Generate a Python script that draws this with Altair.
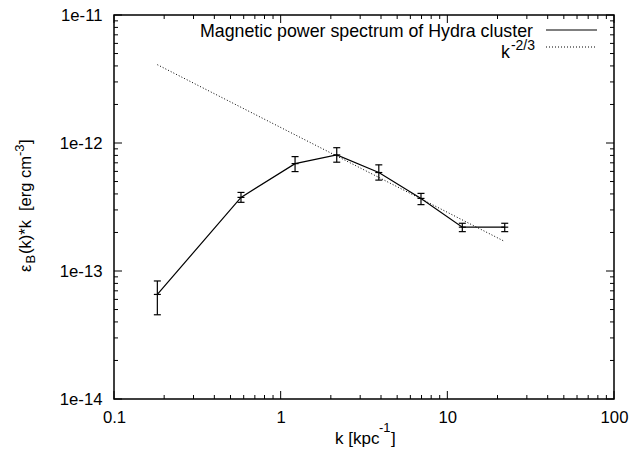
import altair as alt
import pandas as pd

# ---- data ----
k_vals = [0.182, 0.578, 1.22, 2.17, 3.88, 6.95, 12.3, 22.1]
e_vals = [6.56e-14, 3.76e-13, 6.9e-13, 8.07e-13, 5.88e-13, 3.69e-13, 2.20e-13, 2.20e-13]
e_hi = [8.36e-14, 4.11e-13, 7.83e-13, 9.19e-13, 6.75e-13, 4.04e-13, 2.36e-13, 2.36e-13]
e_lo = [4.55e-14, 3.44e-13, 5.98e-13, 7.08e-13, 5.13e-13, 3.30e-13, 2.03e-13, 2.03e-13]

fit_k = [0.182, 22.1]
fit_e = [4.09e-12, 1.70e-13]

x_major = [0.1, 1, 10, 100]
x_minor = [0.2, 0.3, 0.4, 0.5, 0.6, 0.7, 0.8, 0.9,
           2, 3, 4, 5, 6, 7, 8, 9,
           20, 30, 40, 50, 60, 70, 80, 90]
y_major = [1e-14, 1e-13, 1e-12, 1e-11]
y_minor = [2e-14, 3e-14, 4e-14, 5e-14, 6e-14, 7e-14, 8e-14, 9e-14,
           2e-13, 3e-13, 4e-13, 5e-13, 6e-13, 7e-13, 8e-13, 9e-13,
           2e-12, 3e-12, 4e-12, 5e-12, 6e-12, 7e-12, 8e-12, 9e-12]

legend_main = "Magnetic power spectrum of Hydra cluster"

FONT = "Liberation Sans"
W, H = 500, 384
MAJ, MIN = 8, 4

df = pd.DataFrame({"k": k_vals, "E": e_vals, "hi": e_hi, "lo": e_lo})
fit = pd.DataFrame({"k": fit_k, "E": fit_e})
one = pd.DataFrame({"a": [0]})

xscale = alt.Scale(type="log", domain=[0.1, 100], nice=False)
yscale = alt.Scale(type="log", domain=[1e-14, 1e-11], nice=False)

common_axis = dict(ticks=False, tickSize=0, domain=False, grid=False, title=None,
                   labelFont=FONT, labelFontSize=16.7, labelColor="black",
                   labelFlush=False, labelOverlap=False)
xaxis = alt.Axis(values=x_major, format="~g", labelPadding=10, **common_axis)
yaxis = alt.Axis(values=y_major, format="~e", labelPadding=12, **common_axis)

X = lambda f: alt.X(f, type="quantitative", scale=xscale, axis=xaxis)
Y = lambda f: alt.Y(f, type="quantitative", scale=yscale, axis=yaxis)

base = alt.Chart(df)
line = base.mark_line(color="black", strokeWidth=1.2).encode(x=X("k"), y=Y("E"))
err = base.mark_rule(color="black", strokeWidth=1.2).encode(x=X("k"), y=Y("lo"), y2="hi:Q")
caps = [base.mark_point(shape="stroke", size=49, color="black", strokeWidth=1.2,
                        filled=False, opacity=1).encode(x=X("k"), y=Y(f))
        for f in ["lo", "hi", "E"]]
dotted = alt.Chart(fit).mark_line(color="black", strokeWidth=1, strokeDash=[1, 2]).encode(
    x=X("k"), y=Y("E"))

# inward ticks on all four sides
xmaj = pd.DataFrame({"v": x_major})
xmin = pd.DataFrame({"v": x_minor})
ymaj = pd.DataFrame({"v": y_major})
ymin = pd.DataFrame({"v": y_minor})
ticks = []
for d, ln in [(xmaj, MAJ), (xmin, MIN)]:
    ticks.append(alt.Chart(d).mark_rule(color="black", strokeWidth=1).encode(
        x=X("v"), y=alt.value(H), y2=alt.value(H - ln)))
    ticks.append(alt.Chart(d).mark_rule(color="black", strokeWidth=1).encode(
        x=X("v"), y=alt.value(0), y2=alt.value(ln)))
for d, ln in [(ymaj, MAJ), (ymin, MIN)]:
    ticks.append(alt.Chart(d).mark_rule(color="black", strokeWidth=1).encode(
        y=Y("v"), x=alt.value(0), x2=alt.value(ln)))
    ticks.append(alt.Chart(d).mark_rule(color="black", strokeWidth=1).encode(
        y=Y("v"), x=alt.value(W), x2=alt.value(W - ln)))


def txt(t, x, y, size, angle=0, align="left", baseline="alphabetic"):
    return alt.Chart(one).mark_text(text=t, font=FONT, fontSize=size, angle=angle,
                                    align=align, baseline=baseline, color="black").encode(
        x=alt.value(x), y=alt.value(y))


# x title: k [kpc^-1]
xtitle = [txt("k [kpc", 221, 429, 17), txt("-1", 265, 417, 13), txt("]", 277, 429, 17)]
# y title: eps_B(k)*k  [erg cm^-3]
ytitle = [
    txt("ε", -83.5, 257, 16.5, angle=270),
    txt("B", -79, 248.5, 13, angle=270),
    txt("(k)*k", -83.5, 239, 16.5, angle=270),
    txt("[erg cm", -83.5, 196, 16.5, angle=270),
    txt("-3", -90, 141, 13, angle=270),
    txt("]", -83.5, 129, 16.5, angle=270),
]
# legend
legend = [
    txt(legend_main, 419, 22, 17.8, align="right"),
    txt("k", 396, 43, 17.8, align="right"),
    txt("-2/3", 421, 35, 14, align="right"),
    alt.Chart(one).mark_rule(color="black", strokeWidth=1.2).encode(
        x=alt.value(432), x2=alt.value(483), y=alt.value(15)),
    alt.Chart(one).mark_rule(color="black", strokeWidth=1, strokeDash=[1, 2]).encode(
        x=alt.value(432), x2=alt.value(483), y=alt.value(32)),
]

chart = alt.layer(line, err, *caps, dotted, *ticks, *xtitle, *ytitle, *legend).properties(
    width=W, height=H,
    autosize=alt.AutoSizeParams(type="none"),
    padding={"left": 106, "top": 7, "right": 15, "bottom": 50},
    background="white",
).configure_view(stroke="black", strokeWidth=1.5)

chart.save("out.html", embed_options={"renderer": "svg", "actions": False})
